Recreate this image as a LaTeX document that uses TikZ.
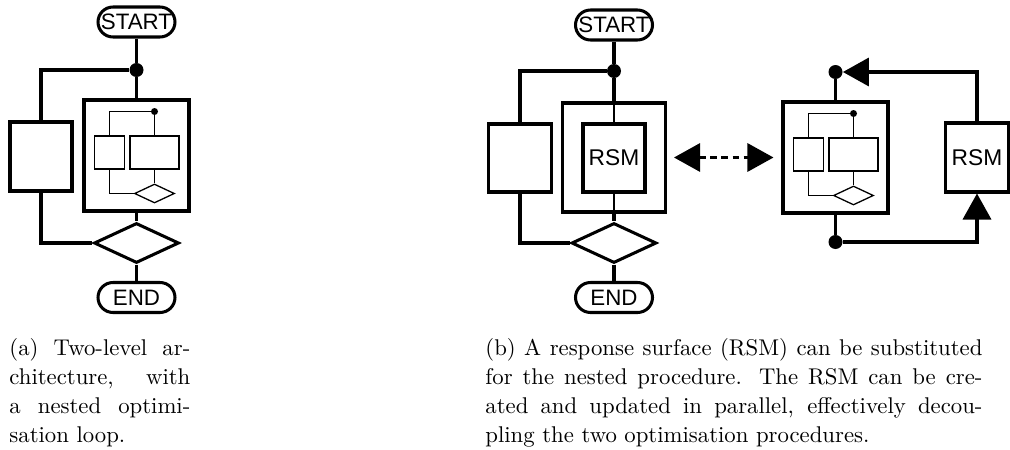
\documentclass[tikz,border=0pt]{standalone}
\usepackage{fontspec}
\newfontfamily\diagfont{Liberation Sans}
\usetikzlibrary{shapes.geometric,shapes.misc,arrows.meta}
% one drawing unit
\newcommand\pxu{0.4615pt}

\tikzset{
  flowline/.style={line width=1.4pt},
  thinline/.style={line width=0.6pt},
  terminal/.style={rounded rectangle, draw, line width=1.4pt, inner sep=0pt,
    minimum width=77*\pxu, minimum height=30*\pxu,
    font=\diagfont\fontsize{10.3}{12}\selectfont},
  junction/.style={circle, fill=black, inner sep=0pt, minimum size=14*\pxu},
  smalljunction/.style={circle, fill=black, inner sep=0pt, minimum size=7*\pxu},
  process/.style={rectangle, draw, line width=1.4pt, inner sep=0pt,
    font=\diagfont\fontsize{10.5}{12}\selectfont},
  thinbox/.style={rectangle, draw, line width=0.6pt, inner sep=0pt},
  decision/.style={diamond, draw, line width=1.4pt, inner sep=0pt,
    minimum width=85*\pxu, minimum height=40*\pxu},
  smalldecision/.style={diamond, draw, line width=0.6pt, inner sep=0pt,
    minimum width=40*\pxu, minimum height=19*\pxu},
  tip/.style={-{Triangle[length=12pt,width=13pt]}},
  twotips/.style={{Triangle[length=12pt,width=13pt]}-{Triangle[length=12pt,width=13pt]}},
  caption/.style={inner sep=0pt, anchor=north west, align=justify,
    font=\fontsize{10.5}{13.4}\selectfont},
  % the nested optimisation loop drawn inside a box
  innerloop/.pic={
    \node[smalljunction] (-dot) at (18,-44) {};
    \node[thinbox, minimum width=30*\pxu, minimum height=33*\pxu] (-l) at (-27,-3) {};
    \node[thinbox, minimum width=49*\pxu, minimum height=33*\pxu] (-r) at (18,-3) {};
    \node[smalldecision] (-d) at (18,38) {};
    \draw[thinline] (-dot) -| (-l.north);
    \draw[thinline] (-dot) -- (-r.north);
    \draw[thinline] (-r.south) -- (-d.north);
    \draw[thinline] (-l.south) |- (-d.west);
  }
}

\begin{document}
\begin{tikzpicture}[x=0.4615pt,y=-0.4615pt]
\useasboundingbox (0,0) rectangle (1010,450);

% ---------- (a) two-level architecture ----------
\node[terminal] (sa) at (136.5,22) {START};
\node[junction] (da) at (136.5,70) {};
\node[process, minimum width=62*\pxu, minimum height=69*\pxu] (La) at (41,156.5) {};
\node[process, minimum width=105*\pxu, minimum height=111*\pxu] (Ma) at (136.5,155.5) {};
\pic (ia) at (136.5,155.5) {innerloop};
\node[decision] (Da) at (136.5,243) {};
\node[terminal] (ea) at (136.5,297.5) {END};

\draw[flowline] (sa.south) -- (da);
\draw[flowline] (da) -| (La.north);
\draw[flowline] (da) -- (Ma.north);
\draw[flowline] (La.south) |- (Da.west);
\draw[flowline] (Ma.south) -- (Da.north);
\draw[flowline] (Da.south) -- (ea.north);

% ---------- (b) outer loop with a response surface ----------
\node[terminal] (sb) at (614,25) {START};
\node[junction] (db) at (614,71) {};
\node[process, minimum width=63*\pxu, minimum height=68*\pxu] (Lb) at (520,158) {};
\node[process, minimum width=103*\pxu, minimum height=109*\pxu] (Ob) at (614,157.5) {};
\node[process, minimum width=62*\pxu, minimum height=68*\pxu] (Rb) at (614,158) {RSM};
\node[decision] (Db) at (614,243) {};
\node[terminal] (eb) at (614,297.5) {END};

\draw[flowline] (sb.south) -- (db);
\draw[flowline] (db) -| (Lb.north);
\draw[flowline] (db) -- (Ob.north);
\draw[thinline] (Ob.north) -- (Rb.north);
\draw[thinline] (Rb.south) -- (Ob.south);
\draw[flowline] (Lb.south) |- (Db.west);
\draw[flowline] (Ob.south) -- (Db.north);
\draw[flowline] (Db.south) -- (eb.north);

% ---------- (b) nested loop updating the RSM ----------
\node[process, minimum width=105*\pxu, minimum height=111*\pxu] (M2) at (835.5,157.5) {};
\pic (i2) at (835.5,157.5) {innerloop};
\node[junction] (t2) at (835.5,72) {};
\node[junction] (b2) at (835.5,242) {};
\node[process, minimum width=63*\pxu, minimum height=69*\pxu] (R2) at (977,157.5) {RSM};

\draw[flowline] (t2) -- (M2.north);
\draw[flowline] (M2.south) -- (b2);
\draw[flowline, tip] (R2.north) |- (t2);
\draw[flowline, tip] (b2) -| (R2.south);

\draw[line width=1.2pt, dash pattern=on 3.2pt off 1.9pt, twotips,
  shorten <=7*\pxu, shorten >=8*\pxu] (Ob.east) -- (M2.west);

% ---------- captions ----------
\node[caption, text width=83.5pt] (capa) at (9,338)
  {(a) Two-level ar-\linebreak chitecture, with\linebreak a nested optimi-\linebreak sation loop.};
\node[caption, text width=229.4pt] (capb) at (485,338)
  {(b) A response surface (RSM) can be substituted\linebreak for the nested procedure. The RSM can be cre-\linebreak ated and updated in parallel, effectively decou-\linebreak pling the two optimisation procedures.};
\end{tikzpicture}
\end{document}
